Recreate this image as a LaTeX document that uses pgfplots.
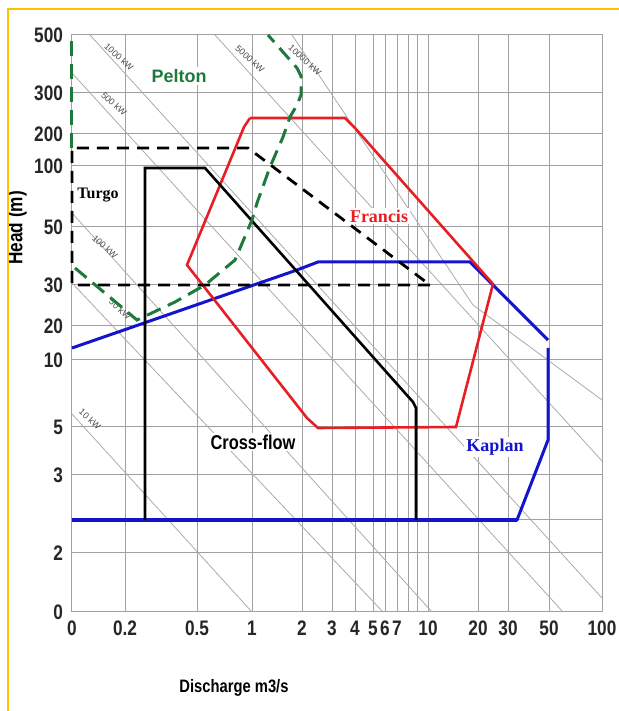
\documentclass[border=0pt]{standalone}
\usepackage{fontspec}
\setmainfont{Liberation Sans}
\newfontfamily\cond[FakeStretch=0.82]{Liberation Sans}
\newfontfamily\serifb{Liberation Serif}
\usepackage{pgfplots}
\pgfplotsset{compat=1.18}
\definecolor{pgreen}{RGB}{30,122,60}
\definecolor{fred}{RGB}{232,30,36}
\definecolor{kblue}{RGB}{20,20,205}
\definecolor{gridc}{RGB}{160,160,160}
\definecolor{pwrc}{RGB}{170,170,170}
\definecolor{frameor}{RGB}{255,192,0}
\begin{document}
\begin{tikzpicture}
\begin{axis}[
  scale only axis, width=265pt, height=288.5pt,
  xmin=0, xmax=530, ymin=0, ymax=577,
  clip=false,
  axis line style={gridc, line width=0.5pt},
  major tick length=0pt, minor tick length=0pt,
  xtick={0,53,125,180,230,260,283,301,313,325,356,406,436,477,530},
  xticklabels={0,0.2,0.5,1,2,3,4,5,6,7,10,20,30,50,100},
  minor xtick={336,345},
  ytick={0,59,137,185,252,286,327,385,446,478,519,577},
  yticklabels={0,2,3,5,10,20,30,50,100,200,300,500},
  minor ytick={92},
  grid=both,
  major grid style={gridc, line width=0.5pt},
  minor grid style={gridc, line width=0.5pt},
  tick label style={font=\cond\bfseries\fontsize{10.5}{12}\selectfont, text=black!85},
  xticklabel style={yshift=-1pt},
  yticklabel style={xshift=-1pt},
]
% power lines
\addplot[pwrc, line width=0.4pt] coordinates {(0,198) (180,0)};
\addplot[pwrc, line width=0.4pt] coordinates {(0,329) (311,0)};
\addplot[pwrc, line width=0.4pt] coordinates {(0,399) (360,0)};
\addplot[pwrc, line width=0.4pt] coordinates {(0,539) (491,0)};
\addplot[pwrc, line width=0.4pt] coordinates {(18,577) (530,14)};
\addplot[pwrc, line width=0.4pt] coordinates {(143,577) (530,151)};
\addplot[pwrc, line width=0.4pt] coordinates {(220,577) (401,307) (530,212)};
% power labels
\begin{scope}[every node/.style={font=\fontsize{4.5}{5}\selectfont, text=black!70, rotate=-42, inner sep=0pt}]
\node at (axis cs:47,555) {1000 kW};
\node at (axis cs:42,508) {500 kW};
\node at (axis cs:178,553) {5000 kW};
\node at (axis cs:233,552) {10000 kW};
\node at (axis cs:33,365) {100 kW};
\node at (axis cs:48,303) {50 kW};
\node at (axis cs:18,193) {10 kW};
\end{scope}
% Kaplan
\addplot[kblue, line width=1.5pt] coordinates {(0,264) (225,342) (246,350) (398,350) (420,328) (476,272)};
\addplot[kblue, line width=1.5pt] coordinates {(476,264) (476,172) (445,92) (0,92)};
\addplot[kblue, line width=2pt] coordinates {(445,92) (0,92)};
% Francis
\addplot[fred, line width=1.3pt] coordinates {(178,494) (273,494) (283,484) (421,328) (384,185) (246,184) (235,194) (115,347) (172,485) (178,494)};
% Cross-flow
\addplot[black, line width=1.3pt] coordinates {(73,92) (73,444) (133,444) (341,210) (344,204) (344,92)};
% Turgo
\addplot[black, line width=1.4pt, dash pattern=on 6pt off 4pt] coordinates {(358,327) (0,327) (0,464) (176,464) (358,327)};
% Pelton
\addplot[pgreen, line width=1.5pt, dash pattern=on 7.5pt off 4pt] coordinates {(3,344) (65,292) (103,310) (133,327) (163,352) (180,392) (185,409) (198,445) (211,475) (218,495) (225,507) (229,517) (229,536) (225,544) (196,577)};
\addplot[pgreen, line width=1.5pt, dash pattern=on 7.5pt off 4pt] coordinates {(0,464) (0,577)};
% labels
\node[font=\bfseries\fontsize{9}{10}\selectfont, text=pgreen, fill=white, inner sep=1pt] at (axis cs:107,536) {Pelton};
\node[font=\serifb\bfseries\fontsize{8}{9}\selectfont, fill=white, inner sep=0.5pt] at (axis cs:26,417) {Turgo};
\node[font=\serifb\bfseries\fontsize{9}{10}\selectfont, text=fred, fill=white, inner sep=1pt] at (axis cs:307,396) {Francis};
\node[font=\cond\bfseries\fontsize{10}{11}\selectfont, fill=white, inner sep=1pt] at (axis cs:181,170) {Cross-flow};
\node[font=\serifb\bfseries\fontsize{9}{10}\selectfont, text=kblue, fill=white, inner sep=1pt] at (axis cs:423,165) {Kaplan};
% axis titles
\node[font=\cond\bfseries\fontsize{10.5}{12}\selectfont, rotate=90] at (axis cs:-55,384) {Head (m)};
\node[font=\cond\bfseries\fontsize{9}{11}\selectfont] at (axis cs:162,-76) {Discharge m3/s};
% frame
\draw[frameor, line width=0.8pt] (axis cs:-64,-99) -- (axis cs:-64,603) -- (axis cs:547,603);
\coordinate (bl) at (axis cs:-72,-99);
\coordinate (tr) at (axis cs:547,612);
\end{axis}
\pgfresetboundingbox
\path[use as bounding box] (bl) rectangle (tr);
\end{tikzpicture}
\end{document}
